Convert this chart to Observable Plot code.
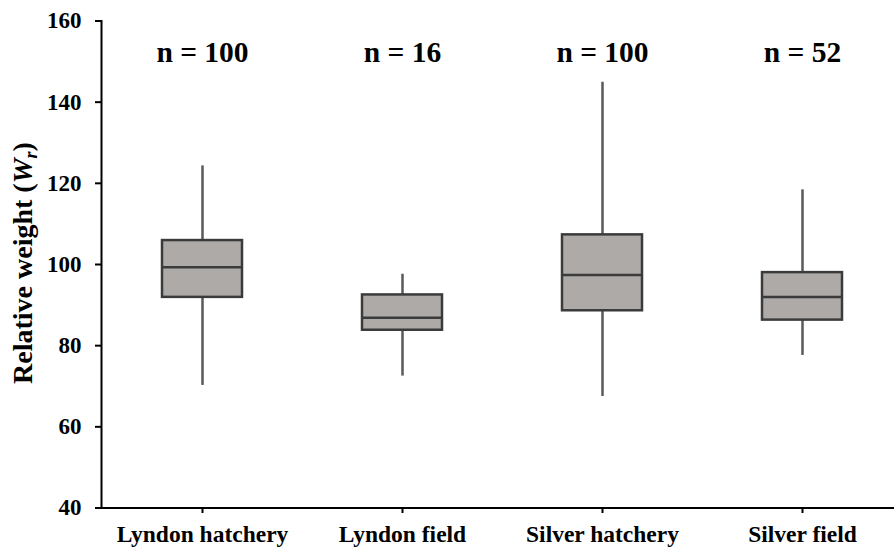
<!DOCTYPE html>
<html>
<head>
<meta charset="utf-8">
<script src="https://cdn.jsdelivr.net/npm/d3@7"></script>
<script src="https://cdn.jsdelivr.net/npm/@observablehq/plot@0.6"></script>
<style>
  html, body { margin: 0; padding: 0; background: #fff; }
  svg { display: block; }
  svg, svg text { font-family: "Liberation Serif", Tinos, "Times New Roman", "DejaVu Serif", serif !important; font-weight: bold; }
</style>
</head>
<body>
<div id="chart"></div>
<script>
const categories = ["Lyndon hatchery", "Lyndon field", "Silver hatchery", "Silver field"];
const sampleSizes = [100, 16, 100, 52];
const whiskerLow = [70.2, 72.5, 67.5, 77.6];
const quartile1 = [91.9, 83.8, 88.6, 86.3];
const medians = [99.3, 86.9, 97.4, 92.0];
const quartile3 = [105.9, 92.5, 107.3, 98.0];
const whiskerHigh = [124.3, 97.6, 144.9, 118.4];
const yTicks = [40, 60, 80, 100, 120, 140, 160];

const rows = categories.map((c, i) => ({
  group: c,
  n: "n = " + sampleSizes[i],
  lo: whiskerLow[i],
  q1: quartile1[i],
  med: medians[i],
  q3: quartile3[i],
  hi: whiskerHigh[i]
}));

const font = '"Liberation Serif", Tinos, "Times New Roman", "DejaVu Serif", serif';

const chart = Plot.plot({
  width: 894,
  height: 548,
  marginLeft: 101,
  marginTop: 20.5,
  marginBottom: 41,
  marginRight: 0,
  style: { fontFamily: font, fontWeight: "bold", background: "#fff", color: "#000" },
  x: { domain: categories, range: [102, 902], paddingInner: 0.6, paddingOuter: 0.3, label: null },
  y: { domain: [40, 160], range: [507.5, 20.5], label: null },
  marks: [
    Plot.ruleX(rows, { x: "group", y1: "lo", y2: "hi", stroke: "#5a5a5a", strokeWidth: 2.5 }),
    Plot.barY(rows, { x: "group", y1: "q1", y2: "q3", fill: "#aeaaa8", stroke: "#3b3b3b", strokeWidth: 2.5 }),
    Plot.tickY(rows, { x: "group", y: "med", stroke: "#3b3b3b", strokeWidth: 2.5 }),
    Plot.text(rows, { x: "group", text: "n", frameAnchor: "top", lineAnchor: "middle", dy: 32, fontSize: 29.5, fontWeight: "bold", fill: "#000" }),
    Plot.axisY({ ticks: yTicks, tickSize: 6, tickPadding: 14, fontSize: 23, strokeWidth: 2, stroke: "#000", tickFormat: d => String(d) }),
    Plot.axisX({ tickSize: 6, tickPadding: 12, fontSize: 23.5, strokeWidth: 2, stroke: "#000" }),
    Plot.frame({ anchor: "left", stroke: "#000", strokeWidth: 2 }),
    Plot.ruleY([40], { stroke: "#000", strokeWidth: 2 })
  ]
});

// Y-axis title with italic W and subscript r
const svg = d3.select(chart);
const t = svg.append("text")
  .attr("transform", "translate(32,263) rotate(-90)")
  .attr("text-anchor", "middle")
  .attr("font-family", font)
  .attr("font-weight", "bold")
  .attr("font-size", 28)
  .attr("fill", "#000");
t.append("tspan").text("Relative weight (");
t.append("tspan").attr("font-style", "italic").text("W");
t.append("tspan").attr("font-style", "italic").attr("font-size", 18).attr("dy", 5).text("r");
t.append("tspan").attr("dy", -5).text(")");

document.getElementById("chart").appendChild(chart);
</script>
</body>
</html>
